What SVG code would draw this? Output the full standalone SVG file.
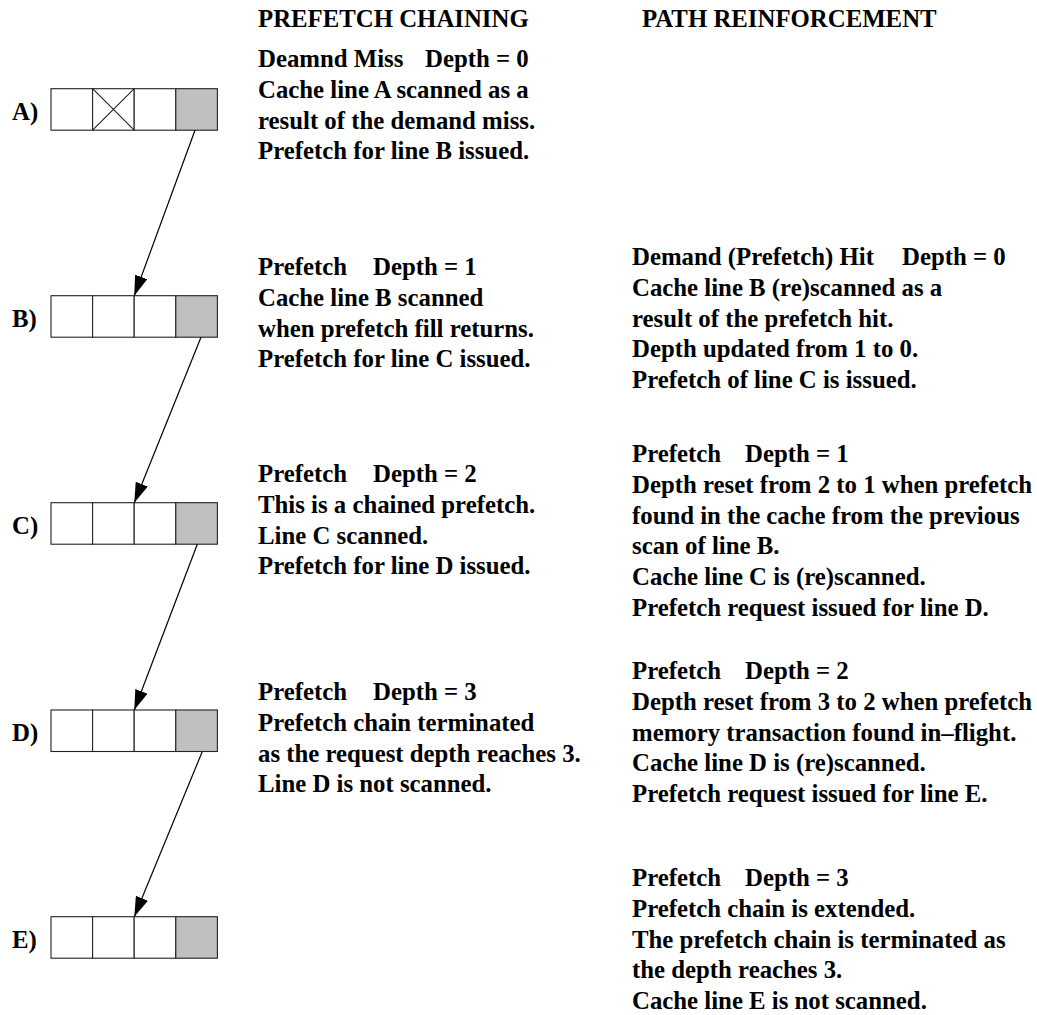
<svg xmlns="http://www.w3.org/2000/svg" width="1037" height="1015" viewBox="0 0 1037 1015">
<style>
text{font-family:"Liberation Serif","Times New Roman",serif;font-weight:bold;font-size:24.8px;fill:#000}
.cell{fill:#fff;stroke:#222;stroke-width:1.1}
.g{fill:#c0c0c0}
.conn{stroke:#000;stroke-width:1.2;fill:none;marker-end:url(#ah)}
</style>
<defs>
<marker id="ah" markerUnits="userSpaceOnUse" markerWidth="20" markerHeight="13" refX="20" refY="6.5" orient="auto">
<path d="M0,0 L20,6.5 L0,13 z" fill="#000"/>
</marker>
<g id="row">
<rect class="cell" x="51" y="0" width="41.6" height="41.5"/>
<rect class="cell" x="92.6" y="0" width="41.6" height="41.5"/>
<rect class="cell" x="134.2" y="0" width="41.6" height="41.5"/>
<rect class="cell g" x="175.8" y="0" width="41.6" height="41.5"/>
</g>
</defs>
<rect width="1037" height="1015" fill="#fff"/>

<text x="258" y="27">PREFETCH CHAINING</text>
<text x="642" y="27">PATH REINFORCEMENT</text>

<g id="nodeA">
<use href="#row" y="88.7"/>
<path d="M92.6,88.7 L134.2,130.2 M134.2,88.7 L92.6,130.2" stroke="#222" stroke-width="1.1"/>
<text x="12" y="120">A)</text>
</g>
<g id="nodeB">
<use href="#row" y="295.7"/>
<text x="12" y="327">B)</text>
</g>
<g id="nodeC">
<use href="#row" y="502.7"/>
<text x="12" y="534">C)</text>
</g>
<g id="nodeD">
<use href="#row" y="710"/>
<text x="12" y="741">D)</text>
</g>
<g id="nodeE">
<use href="#row" y="916.7"/>
<text x="12" y="948">E)</text>
</g>

<g id="connectors">
<path class="conn" d="M195,130.2 L134.3,295.7"/>
<path class="conn" d="M201,337.2 L134.3,502.7"/>
<path class="conn" d="M197.3,544.2 L134.3,710"/>
<path class="conn" d="M202.3,751.5 L134.3,916.7"/>
</g>

<g id="chainA">
<text x="258" y="67"><tspan>Deamnd Miss</tspan><tspan x="425">Depth = 0</tspan><tspan x="258" dy="30.8">Cache line A scanned as a</tspan><tspan x="258" dy="30.8">result of the demand miss.</tspan><tspan x="258" dy="30.8">Prefetch for line B issued.</tspan></text>
</g>
<g id="chainB">
<text x="258" y="275"><tspan>Prefetch</tspan><tspan x="373">Depth = 1</tspan><tspan x="258" dy="30.8">Cache line B scanned</tspan><tspan x="258" dy="30.8">when prefetch fill returns.</tspan><tspan x="258" dy="30.8">Prefetch for line C issued.</tspan></text>
</g>
<g id="chainC">
<text x="258" y="482"><tspan>Prefetch</tspan><tspan x="373">Depth = 2</tspan><tspan x="258" dy="30.8">This is a chained prefetch.</tspan><tspan x="258" dy="30.8">Line C scanned.</tspan><tspan x="258" dy="30.8">Prefetch for line D issued.</tspan></text>
</g>
<g id="chainD">
<text x="258" y="700"><tspan>Prefetch</tspan><tspan x="373">Depth = 3</tspan><tspan x="258" dy="30.8">Prefetch chain terminated</tspan><tspan x="258" dy="30.8">as the request depth reaches 3.</tspan><tspan x="258" dy="30.8">Line D is not scanned.</tspan></text>
</g>

<g id="reinfB">
<text x="632" y="265"><tspan>Demand (Prefetch) Hit</tspan><tspan x="902">Depth = 0</tspan><tspan x="632" dy="30.8">Cache line B (re)scanned as a</tspan><tspan x="632" dy="30.8">result of the prefetch hit.</tspan><tspan x="632" dy="30.8">Depth updated from 1 to 0.</tspan><tspan x="632" dy="30.8">Prefetch of line C is issued.</tspan></text>
</g>
<g id="reinfC">
<text x="632" y="462"><tspan>Prefetch</tspan><tspan x="745">Depth = 1</tspan><tspan x="632" dy="30.8">Depth reset from 2 to 1 when prefetch</tspan><tspan x="632" dy="30.8">found in the cache from the previous</tspan><tspan x="632" dy="30.8">scan of line B.</tspan><tspan x="632" dy="30.8">Cache line C is (re)scanned.</tspan><tspan x="632" dy="30.8">Prefetch request issued for line D.</tspan></text>
</g>
<g id="reinfD">
<text x="632" y="679"><tspan>Prefetch</tspan><tspan x="745">Depth = 2</tspan><tspan x="632" dy="30.8">Depth reset from 3 to 2 when prefetch</tspan><tspan x="632" dy="30.8">memory transaction found in–flight.</tspan><tspan x="632" dy="30.8">Cache line D is (re)scanned.</tspan><tspan x="632" dy="30.8">Prefetch request issued for line E.</tspan></text>
</g>
<g id="reinfE">
<text x="632" y="886"><tspan>Prefetch</tspan><tspan x="745">Depth = 3</tspan><tspan x="632" dy="30.8">Prefetch chain is extended.</tspan><tspan x="632" dy="30.8">The prefetch chain is terminated as</tspan><tspan x="632" dy="30.8">the depth reaches 3.</tspan><tspan x="632" dy="30.8">Cache line E is not scanned.</tspan></text>
</g>
</svg>
